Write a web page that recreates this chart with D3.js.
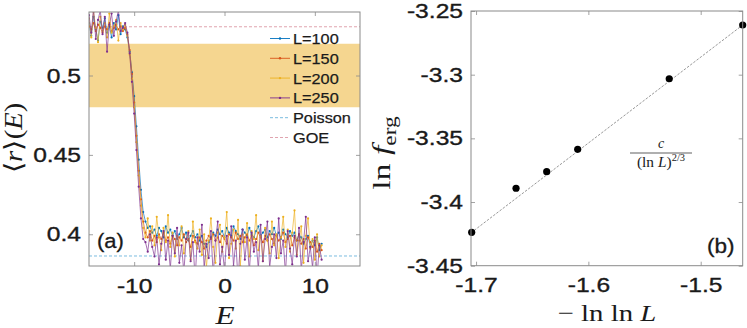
<!DOCTYPE html>
<html><head><meta charset="utf-8">
<script src="https://cdn.jsdelivr.net/npm/d3@7"></script>
<style>body{margin:0;background:#fff;} svg{display:block;}</style>
</head><body>
<svg id="chart" width="747" height="328"></svg>
<script>
// ---------- Panel (a) data ----------
const energies = [-15,-14.75,-14.5,-14.25,-14,-13.75,-13.5,-13.25,-13,-12.75,-12.5,-12.25,-12,-11.75,-11.5,-11.25,-11,-10.75,-10.5,-10.25,-10,-9.75,-9.5,-9.25,-9,-8.75,-8.5,-8.25,-8,-7.75,-7.5,-7.25,-7,-6.75,-6.5,-6.25,-6,-5.75,-5.5,-5.25,-5,-4.75,-4.5,-4.25,-4,-3.75,-3.5,-3.25,-3,-2.75,-2.5,-2.25,-2,-1.75,-1.5,-1.25,-1,-0.75,-0.5,-0.25,0,0.25,0.5,0.75,1,1.25,1.5,1.75,2,2.25,2.5,2.75,3,3.25,3.5,3.75,4,4.25,4.5,4.75,5,5.25,5.5,5.75,6,6.25,6.5,6.75,7,7.25,7.5,7.75,8,8.25,8.5,8.75,9,9.25,9.5,9.75,10,10.25,10.5,10.75];

const seriesNames = ["L=100", "L=150", "L=200", "L=250"];

const rL100 = [0.533,0.525,0.537,0.529,0.522,0.534,0.530,0.536,0.527,0.531,0.524,0.533,0.529,0.538,0.526,0.531,0.529,
  0.524,0.515,0.502,0.487,0.468,0.447,0.428,0.414,
  0.408,0.404,0.405,0.401,
  0.403,0.399,0.404,0.402,0.398,0.405,0.401,0.403,0.399,0.402,
  0.397,0.400,0.404,0.398,0.401,0.396,0.399,0.402,0.398,0.400,
  0.396,0.399,0.394,0.392,0.395,0.398,0.401,0.399,0.403,0.400,
  0.402,0.398,0.404,0.401,0.399,0.405,0.402,0.400,0.397,0.403,
  0.401,0.399,0.404,0.400,0.398,0.402,0.405,0.399,0.401,0.403,
  0.398,0.402,0.400,0.404,0.399,0.401,0.397,0.403,0.400,0.398,
  0.402,0.399,0.401,0.396,0.400,0.398,0.394,0.397,0.399,0.392,
  0.396,0.393,0.398,0.390,0.394];

const rL150 = [0.531,0.529,0.533,0.528,0.532,0.530,0.527,0.531,0.529,0.533,0.528,0.530,0.532,0.529,0.531,0.528,0.530,
  0.526,0.516,0.501,0.483,0.462,0.440,0.422,0.408,
  0.401,0.398,0.402,0.396,
  0.399,0.395,0.400,0.397,0.401,0.396,0.398,0.394,0.399,0.397,
  0.393,0.398,0.396,0.400,0.395,0.397,0.392,0.399,0.396,0.394,
  0.398,0.395,0.391,0.396,0.399,0.397,0.400,0.396,0.398,0.395,
  0.399,0.397,0.394,0.400,0.398,0.396,0.401,0.397,0.399,0.395,
  0.398,0.400,0.396,0.399,0.393,0.397,0.401,0.398,0.395,0.399,
  0.396,0.400,0.397,0.394,0.399,0.396,0.398,0.401,0.395,0.397,
  0.399,0.393,0.398,0.396,0.400,0.394,0.397,0.391,0.398,0.395,
  0.392,0.396,0.389,0.394,0.390];

const rL200 = [0.536,0.524,0.540,0.530,0.521,0.537,0.528,0.533,0.524,0.539,0.527,0.531,0.535,0.522,0.533,0.529,0.532,
  0.525,0.513,0.498,0.480,0.458,0.437,0.418,0.404,
  0.398,0.410,0.396,0.405,
  0.393,0.411,0.398,0.390,0.404,0.395,0.412,0.392,0.401,0.386,
  0.399,0.393,0.405,0.388,0.397,0.402,0.384,0.408,0.395,0.391,
  0.403,0.387,0.400,0.379,0.396,0.410,0.392,0.382,0.401,0.406,
  0.389,0.398,0.414,0.385,0.394,0.403,0.391,0.409,0.380,0.400,
  0.395,0.407,0.386,0.402,0.397,0.412,0.390,0.399,0.383,0.404,
  0.396,0.388,0.408,0.393,0.400,0.385,0.398,0.411,0.392,0.403,
  0.389,0.401,0.415,0.387,0.396,0.405,0.382,0.399,0.410,0.391,
  0.397,0.384,0.400,0.386,0.393];

const rL250 = [0.538,0.527,0.542,0.523,0.535,0.541,0.526,0.537,0.515,0.532,0.539,0.525,0.534,0.541,0.528,0.530,0.533,
  0.527,0.514,0.496,0.476,0.453,0.430,0.410,0.397,
  0.395,0.389,0.400,0.392,
  0.386,0.398,0.381,0.394,0.402,0.384,0.396,0.378,0.399,0.388,
  0.404,0.382,0.393,0.376,0.397,0.401,0.383,0.395,0.372,0.398,
  0.389,0.406,0.379,0.394,0.385,0.402,0.374,0.396,0.408,0.381,
  0.392,0.377,0.399,0.387,0.405,0.380,0.396,0.371,0.394,0.403,
  0.384,0.398,0.376,0.401,0.389,0.395,0.378,0.406,0.383,0.397,
  0.408,0.379,0.392,0.400,0.385,0.410,0.388,0.396,0.375,0.402,
  0.391,0.381,0.399,0.386,0.404,0.377,0.395,0.411,0.383,0.392,
  0.379,0.398,0.373,0.393,0.384];

const poissonValue = 0.3863;
const goeValue = 0.5307;
const bandRange = [0.48, 0.52];
const refNames = ["Poisson", "GOE"];

const xTicksA = [-10, 0, 10];
const xTickLabelsA = ["-10", "0", "10"];
const yTicksA = [0.4, 0.45, 0.5];
const yTickLabelsA = ["0.4", "0.45", "0.5"];

// ---------- Panel (b) data ----------
const minusLnLnL = [-1.7039, -1.6644, -1.6371, -1.6095, -1.5280, -1.4626];
const lnFerg = [-3.4238, -3.3892, -3.3762, -3.3586, -3.3032, -3.2610];
const fitX = [-1.7045, -1.4626];
const fitY = [-3.4242, -3.2610];
const xTicksB = [-1.7, -1.6, -1.5];
const xTickLabelsB = ["-1.7", "-1.6", "-1.5"];
const yTicksB = [-3.45, -3.4, -3.35, -3.3, -3.25];
const yTickLabelsB = ["-3.45", "-3.4", "-3.35", "-3.3", "-3.25"];

// ---------- drawing ----------
const seriesData = [rL100, rL150, rL200, rL250];
const colors = ["#0072BD", "#D95319", "#EDB120", "#7E2F8E"];
const poissonColor = "#6cb4dc", goeColor = "#dc9aa6";
const bandColor = "#f5d690";
const boxColor = "#8a8a8a";
const textColor = "#1a1a1a";
const sans = "'Liberation Sans', Arial, Helvetica, sans-serif";
const serif = "'Liberation Serif', 'Times New Roman', serif";

const svg = d3.select("#chart");

function stretch(sel, k) {
  sel.each(function () {
    const w = this.getComputedTextLength();
    if (w > 0) {
      this.setAttribute("textLength", w * k);
      this.setAttribute("lengthAdjust", "spacingAndGlyphs");
    }
  });
}
function heavy(sel, w) {
  sel.attr("stroke", textColor).attr("stroke-width", w).attr("paint-order", "stroke");
}

function drawAxes(g, P, xs, ys, xt, xl, yt, yl) {
  const bottom = g.append("g").attr("transform", `translate(0,${P.y1})`)
    .call(d3.axisBottom(xs).tickValues(xt).tickFormat((d, i) => xl[i]).tickSizeInner(-4).tickSizeOuter(0).tickPadding(12));
  const left = g.append("g").attr("transform", `translate(${P.x0},0)`)
    .call(d3.axisLeft(ys).tickValues(yt).tickFormat((d, i) => yl[i]).tickSizeInner(-4).tickSizeOuter(0).tickPadding(8));
  const top = g.append("g").attr("transform", `translate(0,${P.y0})`)
    .call(d3.axisTop(xs).tickValues(xt).tickFormat("").tickSizeInner(-4).tickSizeOuter(0));
  const right = g.append("g").attr("transform", `translate(${P.x1},0)`)
    .call(d3.axisRight(ys).tickValues(yt).tickFormat("").tickSizeInner(-4).tickSizeOuter(0));
  [bottom, left, top, right].forEach(a => {
    a.select(".domain").remove();
    a.selectAll("line").attr("stroke", boxColor).attr("stroke-width", 0.8);
    a.selectAll("text").attr("font-family", sans).attr("font-size", 20.5).attr("fill", textColor);
  });
  stretch(bottom.selectAll("text"), 1.2);
  stretch(left.selectAll("text"), 1.2);
  heavy(bottom.selectAll("text"), 0.35);
  heavy(left.selectAll("text"), 0.35);
  g.append("rect").attr("x", P.x0).attr("y", P.y0).attr("width", P.x1 - P.x0).attr("height", P.y1 - P.y0)
    .attr("fill", "none").attr("stroke", boxColor).attr("stroke-width", 1);
}

// ----- Panel (a) -----
const A = { x0: 89, x1: 360, y0: 12, y1: 266 };
const xA = d3.scaleLinear().domain([-15, 15]).range([A.x0, A.x1]);
const yA = d3.scaleLinear().domain([0.38, 0.54]).range([A.y1, A.y0]);

svg.append("defs").append("clipPath").attr("id", "clipA").append("rect")
  .attr("x", A.x0).attr("y", A.y0).attr("width", A.x1 - A.x0).attr("height", A.y1 - A.y0);

const gA = svg.append("g");
const plotA = gA.append("g").attr("clip-path", "url(#clipA)");

plotA.append("rect").attr("x", A.x0).attr("width", A.x1 - A.x0)
  .attr("y", yA(bandRange[1])).attr("height", yA(bandRange[0]) - yA(bandRange[1]))
  .attr("fill", bandColor);

plotA.append("line").attr("x1", A.x0).attr("x2", A.x1).attr("y1", yA(poissonValue)).attr("y2", yA(poissonValue))
  .attr("stroke", poissonColor).attr("stroke-width", 0.9).attr("stroke-dasharray", "3,2");
plotA.append("line").attr("x1", A.x0).attr("x2", A.x1).attr("y1", yA(goeValue)).attr("y2", yA(goeValue))
  .attr("stroke", goeColor).attr("stroke-width", 0.9).attr("stroke-dasharray", "3,2");

const lineA = d3.line().x((d, i) => xA(energies[i])).y(d => yA(d));
seriesData.forEach((s, k) => {
  plotA.append("path").datum(s).attr("d", lineA).attr("fill", "none")
    .attr("stroke", colors[k]).attr("stroke-width", 0.8).attr("stroke-opacity", 0.85);
  plotA.append("g").selectAll("circle").data(s).join("circle")
    .attr("cx", (d, i) => xA(energies[i])).attr("cy", d => yA(d)).attr("r", 1.1)
    .attr("fill", colors[k]);
});

drawAxes(gA, A, xA, yA, xTicksA, xTickLabelsA, yTicksA, yTickLabelsA);

// legend
const legend = gA.append("g");
const legItems = seriesNames.map((n, i) => ({ name: n, color: colors[i], dash: null, marker: true }))
  .concat([{ name: refNames[0], color: poissonColor, dash: "3,2", marker: false },
           { name: refNames[1], color: goeColor, dash: "3,2", marker: false }]);
legItems.forEach((it, i) => {
  const y = 38.5 + 19.8 * i;
  legend.append("line").attr("x1", 270).attr("x2", 290).attr("y1", y).attr("y2", y)
    .attr("stroke", it.color).attr("stroke-width", 0.9).attr("stroke-dasharray", it.dash);
  if (it.marker) legend.append("circle").attr("cx", 280).attr("cy", y).attr("r", 1.2).attr("fill", it.color);
  legend.append("text").attr("x", 293).attr("y", y).attr("dy", "0.36em")
    .attr("font-family", sans).attr("font-size", 15.5).attr("fill", textColor).text(it.name);
});
stretch(legend.selectAll("text"), 1.05);
heavy(legend.selectAll("text"), 0.25);

const tagA = gA.append("text").attr("x", 97).attr("y", 248).attr("font-family", sans).attr("font-size", 20.5)
  .attr("fill", textColor).text("(a)");
stretch(tagA, 1.07);
heavy(tagA, 0.3);

// axis labels (a)
const xlabA = gA.append("text").attr("x", 225).attr("y", 324).attr("text-anchor", "middle")
  .attr("font-family", serif).attr("font-style", "italic").attr("font-size", 25).attr("fill", textColor).text("E");
stretch(xlabA, 1.25);
const ylabA = gA.append("text").attr("transform", "translate(22,138) rotate(-90)").attr("text-anchor", "middle")
  .attr("font-family", serif).attr("font-size", 25).attr("fill", textColor);
ylabA.append("tspan").text("\u27E8");
ylabA.append("tspan").attr("font-style", "italic").text("r");
ylabA.append("tspan").text("\u27E9(");
ylabA.append("tspan").attr("font-style", "italic").text("E");
ylabA.append("tspan").text(")");
stretch(ylabA, 1.15);

// ----- Panel (b) -----
const B = { x0: 471, x1: 742.7, y0: 11, y1: 265.7 };
const xB = d3.scaleLinear().domain([-1.7045, -1.4626]).range([B.x0, B.x1]);
const yB = d3.scaleLinear().domain([-3.45, -3.25]).range([B.y1, B.y0]);
const gB = svg.append("g");

gB.append("path").datum(fitX.map((x, i) => [x, fitY[i]]))
  .attr("d", d3.line().x(d => xB(d[0])).y(d => yB(d[1])))
  .attr("fill", "none").attr("stroke", "#8c8c8c").attr("stroke-width", 0.9).attr("stroke-dasharray", "2.5,1.5");

gB.append("g").selectAll("circle").data(minusLnLnL).join("circle")
  .attr("cx", d => xB(d)).attr("cy", (d, i) => yB(lnFerg[i])).attr("r", 3.6).attr("fill", "#000");

drawAxes(gB, B, xB, yB, xTicksB, xTickLabelsB, yTicksB, yTickLabelsB);

const tagB = gB.append("text").attr("x", 707).attr("y", 253).attr("font-family", sans).attr("font-size", 20.5)
  .attr("fill", textColor).text("(b)");
stretch(tagB, 1.1);
heavy(tagB, 0.3);

// fraction annotation
gB.append("text").attr("x", 661).attr("y", 148).attr("text-anchor", "middle")
  .attr("font-family", serif).attr("font-style", "italic").attr("font-size", 14).attr("fill", textColor).text("c");
gB.append("line").attr("x1", 630).attr("x2", 692).attr("y1", 153).attr("y2", 153).attr("stroke", textColor).attr("stroke-width", 0.7);
const den = gB.append("text").attr("x", 661).attr("y", 167).attr("text-anchor", "middle")
  .attr("font-family", serif).attr("font-size", 14).attr("fill", textColor);
den.append("tspan").text("(ln ");
den.append("tspan").attr("font-style", "italic").text("L");
den.append("tspan").text(")");
den.append("tspan").attr("font-size", 9.5).attr("dy", -6).text("2/3");
stretch(den, 1.1);

// axis labels (b)
const xlabB = gB.append("text").attr("x", 607).attr("y", 321).attr("text-anchor", "middle")
  .attr("font-family", serif).attr("font-size", 24).attr("fill", textColor);
xlabB.append("tspan").text("\u2212 ln ln ");
xlabB.append("tspan").attr("font-style", "italic").text("L");
stretch(xlabB, 1.2);

const ylabB = gB.append("text").attr("transform", "translate(390,153) rotate(-90)").attr("text-anchor", "middle")
  .attr("font-family", serif).attr("font-size", 26).attr("fill", textColor);
ylabB.append("tspan").text("ln ");
ylabB.append("tspan").attr("font-style", "italic").text("f");
ylabB.append("tspan").attr("font-size", 18).attr("dy", 6).text("erg");
stretch(ylabB, 1.3);
</script>
</body></html>
